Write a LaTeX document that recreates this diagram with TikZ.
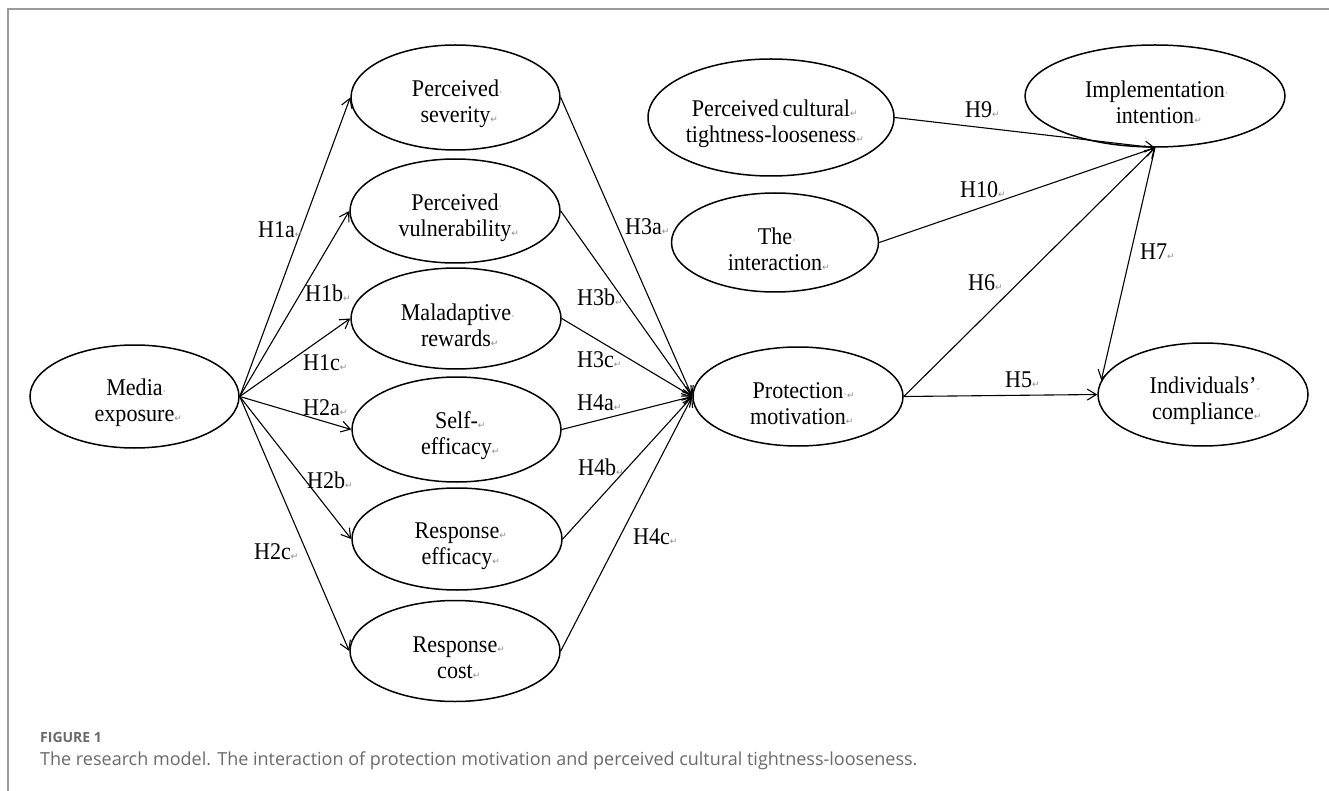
\documentclass[tikz,border=0pt]{standalone}
\usepackage{fontspec}
\setmainfont{Liberation Serif}[FakeStretch=0.92]
\newfontfamily\retfont{DejaVu Sans}
\newfontfamily\capfont{Open Sans}
\usetikzlibrary{arrows.meta,shapes.geometric}
\definecolor{markgray}{HTML}{8C8C8C}
\definecolor{framegray}{HTML}{9A9A9A}
\definecolor{capgray}{HTML}{6A6A6A}
\newcommand\retmark{{\color{markgray}\retfont\fontsize{9}{9}\selectfont ↵}}
\newcommand\spdot{{\color{markgray}\fontsize{12}{12}\selectfont ·}}
\newcommand\rr{\rlap{\retmark}}
\newcommand\rd{\rlap{\spdot}}
\newcommand\tst{\rule{0pt}{30pt}}
\begin{document}
\begin{tikzpicture}[x=1pt,y=-1pt,
  latent/.style={ellipse, draw, line width=1.5pt, inner sep=0pt, align=center,
    font=\fontsize{24}{26}\selectfont},
  hpath/.style={line width=1.1pt, -{Straight Barb[length=9pt,width=11pt,line width=1.1pt]}},
  hlab/.style={font=\fontsize{24}{26}\selectfont, anchor=west, inner sep=0pt}]
\useasboundingbox (0,0) rectangle (1329,791);
\fill[white] (0,0) rectangle (1329,791);
\draw[framegray, line width=2pt] (7.5,791) -- (7.5,9) -- (1329,9);

% nodes
\node[latent, minimum width=209pt, minimum height=103pt] (media) at (134.5,396.5) {\tst Media\rd\\exposure\rr};
\node[latent, minimum width=209pt, minimum height=105pt] (sev) at (455.5,97.5) {\tst Perceived\rd\\severity\rr};
\node[latent, minimum width=210pt, minimum height=104pt] (vul) at (455,211) {\tst Perceived\rd\\vulnerability\rr};
\node[latent, minimum width=210pt, minimum height=101pt] (mal) at (456,318.5) {\tst Maladaptive\rd\\rewards\rr};
\node[latent, minimum width=209pt, minimum height=105pt] (self) at (456.5,429.5) {\tst Self-\rr\\efficacy\rr};
\node[latent, minimum width=210pt, minimum height=102pt] (reff) at (457,539) {\tst Response\rr\\efficacy\rr};
\node[latent, minimum width=210pt, minimum height=101pt] (rcost) at (455,651) {\tst Response\rr\\cost\rr};
\node[latent, minimum width=210pt, minimum height=99pt] (prot) at (798,396.5) {\tst Protection\rlap{\spdot\retmark}\\motivation\rr};
\node[latent, minimum width=210pt, minimum height=103pt] (ind) at (1203,394.5) {\tst Individuals’\rd\\compliance\rr};
\node[latent, minimum width=246pt, minimum height=117pt] (cult) at (771,117.5) {\tst Perceived\spdot cultural\rr\\tightness-looseness\rr};
\node[latent, minimum width=207pt, minimum height=99pt] (inter) at (775,242.5) {\tst The\rd\\interaction\rr};
\node[latent, minimum width=260pt, minimum height=102pt] (impl) at (1155,96) {\tst Implementation\rd\\intention\rr};

% connectors
\draw[hpath] (media.east) -- (sev.west);
\draw[hpath] (media.east) -- (vul.west);
\draw[hpath] (media.east) -- (mal.west);
\draw[hpath] (media.east) -- (self.west);
\draw[hpath] (media.east) -- (reff.west);
\draw[hpath] (media.east) -- (rcost.west);
\draw[hpath] (sev.east) -- (prot.west);
\draw[hpath] (vul.east) -- (prot.west);
\draw[hpath] (mal.east) -- (prot.west);
\draw[hpath] (self.east) -- (prot.west);
\draw[hpath] (reff.east) -- (prot.west);
\draw[hpath] (rcost.east) -- (prot.west);
\draw[hpath] (prot.east) -- (ind.west);
\draw[hpath] (prot.east) -- (impl.south);
\draw[hpath] (impl.south) -- (ind.172);
\draw[hpath] (cult.east) -- (impl.south);
\draw[hpath] (inter.east) -- (impl.south);

% labels
\node[hlab] (l1a) at (258,230) {H1a\rr};
\node[hlab] (l1b) at (305,293) {H1b\rr};
\node[hlab] (l1c) at (303,363) {H1c\rr};
\node[hlab] (l2a) at (303,408) {H2a\rr};
\node[hlab] (l2b) at (307,480) {H2b\rr};
\node[hlab] (l2c) at (254,552) {H2c\rr};
\node[hlab] (l3a) at (625,227) {H3a\rr};
\node[hlab] (l3b) at (577,297) {H3b\rr};
\node[hlab] (l3c) at (577,360) {H3c\rr};
\node[hlab] (l4a) at (577,403) {H4a\rr};
\node[hlab] (l4b) at (578,467) {H4b\rr};
\node[hlab] (l4c) at (633,537) {H4c\rr};
\node[hlab] (l5) at (1005,380) {H5\rr};
\node[hlab] (l6) at (968,283) {H6\rr};
\node[hlab] (l7) at (1140,252) {H7\rr};
\node[hlab] (l9) at (965,110) {H9\rr};
\node[hlab] (l10) at (960,190) {H10\rr};

% caption
\node[anchor=west, inner sep=0pt, text=capgray, font=\capfont\bfseries\fontsize{14}{14}\selectfont] (fig) at (40,737) {FIGURE 1};
\node[anchor=west, inner sep=0pt, text=capgray, font=\capfont\fontsize{18}{18}\selectfont] (cap) at (40,761) {The research model. The interaction of protection motivation and perceived cultural tightness-looseness.};
\end{tikzpicture}
\end{document}
